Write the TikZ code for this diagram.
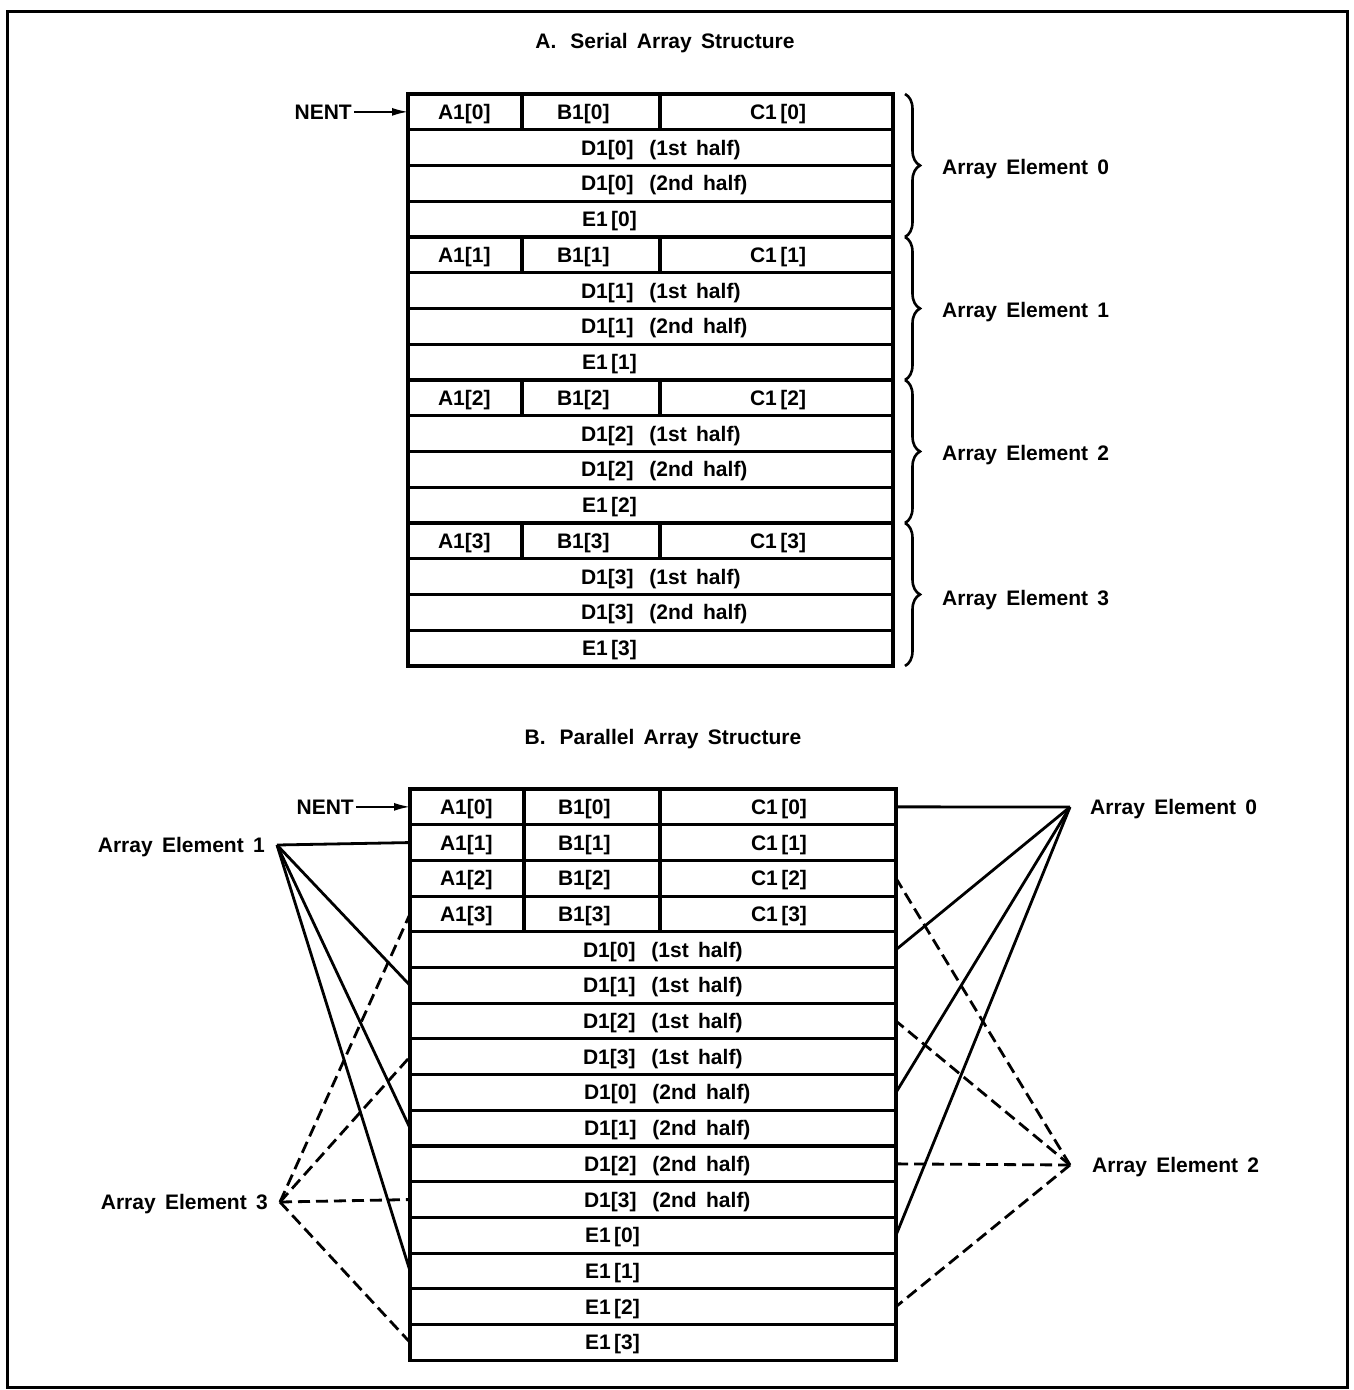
\documentclass[tikz,border=0pt]{standalone}
\usepackage{fontspec}
\setmainfont{Liberation Sans}[WordSpace=1.6]
\usetikzlibrary{arrows.meta,decorations.pathreplacing}
\newcommand\mycell[6]{%
  \node[cell, minimum width=#4pt] (#1) at (#2,#3) {\makebox[#4pt][l]{\hspace*{#5pt}#6}};}
\newcommand\dgap{\hspace{16pt}}
\begin{document}
\begin{tikzpicture}[x=1pt,y=-1pt,
  every node/.style={font=\fontsize{21}{25}\selectfont\bfseries},
  cell/.style={draw, line width=3.1pt, minimum height=35.7pt, anchor=north west,
    inner sep=0pt, outer sep=0pt, text height=15pt, text depth=0pt},
  lbl/.style={inner sep=0pt, text height=15pt, text depth=0pt},
  conn/.style={line width=2.8pt},
  dconn/.style={line width=2.8pt, dash pattern=on 12pt off 6pt},
  brc/.style={decorate, decoration={brace, amplitude=15pt}, line width=2.6pt},
  nentarrow/.style={line width=1.8pt, -{Latex[length=16pt,width=8pt]}}
]
\useasboundingbox (0,0) rectangle (1354,1390);
\draw[line width=3pt] (7,11) rectangle (1347,1387);

% ---------- Part A ----------
\node[lbl] (titleA) at (665,41) {A.\hspace{14pt}Serial Array Structure};
\foreach \k in {0,1,2,3}{
  \pgfmathsetmacro\ya{94+4*\k*35.75}
  \pgfmathsetmacro\yb{94+(4*\k+1)*35.75}
  \pgfmathsetmacro\yc{94+(4*\k+2)*35.75}
  \pgfmathsetmacro\yd{94+(4*\k+3)*35.75}
  \mycell{sa\k}{408}{\ya}{114}{30}{A1[\k]}
  \mycell{sb\k}{522}{\ya}{138}{35}{B1[\k]}
  \mycell{sc\k}{660}{\ya}{233}{90}{C1\,[\k]}
  \mycell{sdf\k}{408}{\yb}{485}{173}{D1[\k]\dgap(1st half)}
  \mycell{sds\k}{408}{\yc}{485}{173}{D1[\k]\dgap(2nd half)}
  \mycell{se\k}{408}{\yd}{485}{174}{E1\,[\k]}
  \draw[brc] ([xshift=12pt]sc\k.north east) -- ([xshift=12pt]se\k.south east);
}
\node[lbl, anchor=west] (sel0) at (942,167) {Array Element 0};
\node[lbl, anchor=west] (sel1) at (942,310) {Array Element 1};
\node[lbl, anchor=west] (sel2) at (942,453) {Array Element 2};
\node[lbl, anchor=west] (sel3) at (942,598) {Array Element 3};
\node[lbl, anchor=east, inner xsep=2pt] (nentA) at ([xshift=-54pt]sa0.west) {NENT};
\draw[nentarrow] (nentA.east) -- (sa0.west);

% ---------- Part B ----------
\node[lbl] (titleB) at (663,737) {B.\hspace{14pt}Parallel Array Structure};
\foreach \k in {0,1,2,3}{
  \pgfmathsetmacro\ya{789+\k*35.7}
  \pgfmathsetmacro\yb{789+(4+\k)*35.7}
  \pgfmathsetmacro\yc{789+(8+\k)*35.7}
  \pgfmathsetmacro\yd{789+(12+\k)*35.7}
  \mycell{pa\k}{410}{\ya}{114}{30}{A1[\k]}
  \mycell{pb\k}{524}{\ya}{136}{34}{B1[\k]}
  \mycell{pc\k}{660}{\ya}{236}{91}{C1\,[\k]}
  \mycell{pdf\k}{410}{\yb}{486}{173}{D1[\k]\dgap(1st half)}
  \mycell{pds\k}{410}{\yc}{486}{174}{D1[\k]\dgap(2nd half)}
  \mycell{pe\k}{410}{\yd}{486}{175}{E1\,[\k]}
}
\node[lbl, anchor=east, inner xsep=2pt] (nentB) at ([xshift=-54pt]pa0.west) {NENT};
\draw[nentarrow] (nentB.east) -- (pa0.west);

\node[lbl, anchor=east, inner xsep=12pt] (ae1) at (277,845) {Array Element 1};
\node[lbl, anchor=east, inner xsep=12pt] (ae3) at (280,1202) {Array Element 3};
\node[lbl, anchor=west, inner xsep=20pt] (ae0) at (1070,807) {Array Element 0};
\node[lbl, anchor=west, inner xsep=22pt] (ae2) at (1070,1165) {Array Element 2};

\foreach \n in {pa1,pdf1,pds1,pe1}{\draw[conn] (ae1.east) -- (\n.west);}
\foreach \n in {pa3,pdf3,pds3,pe3}{\draw[dconn] (ae3.east) -- (\n.west);}
\foreach \n in {pc0,pdf0,pds0,pe0}{\draw[conn] (ae0.west) -- (\n.east);}
\foreach \n in {pc2,pdf2,pds2,pe2}{\draw[dconn] (ae2.west) -- (\n.east);}
\end{tikzpicture}
\end{document}
